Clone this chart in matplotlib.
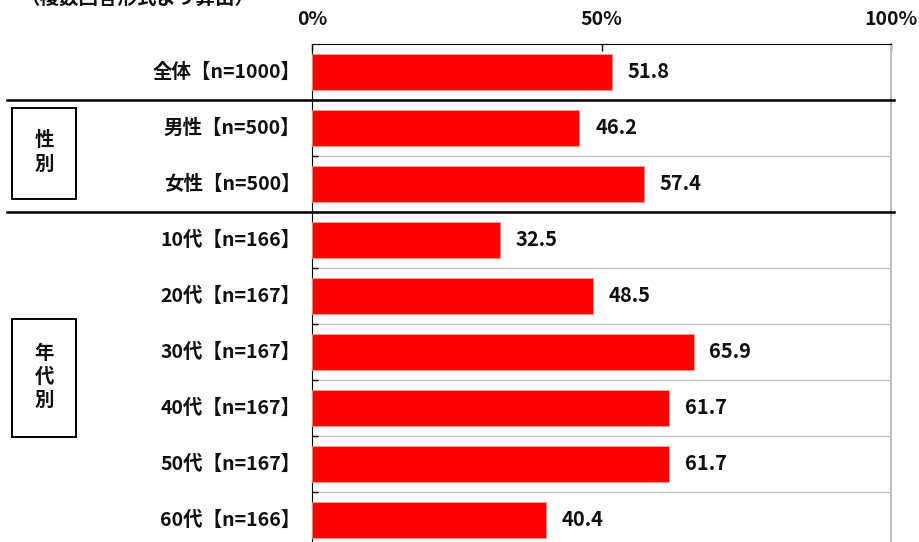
import matplotlib
matplotlib.use("Agg")
import matplotlib.pyplot as plt
import matplotlib.patches as mpatches

plt.rcParams['font.family'] = ['Noto Sans CJK JP', 'DejaVu Sans']

# data
categories = ["全体【n=1000】", "男性【n=500】", "女性【n=500】",
              "10代【n=166】", "20代【n=167】", "30代【n=167】",
              "40代【n=167】", "50代【n=167】", "60代【n=166】"]
values = [51.8, 46.2, 57.4, 32.5, 48.5, 65.9, 61.7, 61.7, 40.4]
x_ticks = [0, 50, 100]
x_tick_labels = ["0%", "50%", "100%"]
title_text = "（複数回答形式より算出）"
# groups: (label, first row, last row)
groups = [("性\n別", 1, 2), ("年\n代\n別", 3, 8)]
separators_after = [0, 2]

W, H = 920, 542
fig = plt.figure(figsize=(W / 100, H / 100), dpi=100)
ax = fig.add_axes([312 / W, (H - 548) / H, 579 / W, 504 / H])

rows = list(range(len(categories)))
ax.barh(rows, values, height=0.66, color='#ff0000', edgecolor='#ff9999', linewidth=0.6, zorder=3)
ax.set_xlim(0, 100)
ax.set_ylim(len(categories) - 0.5, -0.5)

# value labels
for r, v in zip(rows, values):
    ax.text(v + 2.7, r, f"{v:.1f}", va='center', ha='left', fontsize=14.5,
            fontweight='bold', color='#111111')

# row gridlines
for b in range(1, len(categories)):
    ax.axhline(b - 0.5, color='#c0c0c0', linewidth=1, zorder=1)

ax.set_yticks([b - 0.5 for b in range(1, len(categories))])
ax.set_yticklabels([])
ax.tick_params(axis='y', direction='in', length=4, width=1, color='black')

# category labels
for r, c in zip(rows, categories):
    ax.text(-0.02, r, c, transform=ax.get_yaxis_transform(), ha='right', va='center',
            fontsize=14, fontweight='bold', color='#111111')

ax.xaxis.set_ticks_position('top')
ax.set_xticks(x_ticks)
ax.set_xticklabels(x_tick_labels, fontsize=14, fontweight='bold', color='#111111')
ax.tick_params(axis='x', direction='in', length=5, width=1, pad=11, color='black')

ax.spines['bottom'].set_visible(False)
ax.spines['left'].set_color('black')
ax.spines['top'].set_color('black')
ax.spines['right'].set_color('#bfbfbf')
ax.spines['right'].set_linewidth(1.5)

# group separators (black, spanning past label area)
trans = ax.get_yaxis_transform()
for s in separators_after:
    ax.plot([-0.526, 1.005], [s + 0.5, s + 0.5], color='black', linewidth=1.8,
            transform=trans, clip_on=False, zorder=5)

# group boxes with vertical labels
for label, r0, r1 in groups:
    top = r0 - 0.5 + 8 / 56
    bot = r1 + 0.5 - 13 / 56
    if r1 - r0 > 2:
        mid = (r0 + r1) / 2 - 0.03
        top = mid - 1.06
        bot = mid + 1.05
    rect = mpatches.Rectangle((-0.518, top), 0.111, bot - top, transform=trans,
                              fill=False, edgecolor='black', linewidth=1.4, clip_on=False)
    ax.add_patch(rect)
    ax.text(-0.4625, (top + bot) / 2 - 0.02, label, transform=trans, ha='center', va='center',
            fontsize=14, fontweight='bold', linespacing=1.3, color='#111111')

# clipped title at top (cut off in the reference too)
fig.text(20 / W, (H + 2) / H, title_text, ha='left', va='center', fontsize=14,
         fontweight='bold', color='#111111')

fig.savefig("out.png", dpi=100)
